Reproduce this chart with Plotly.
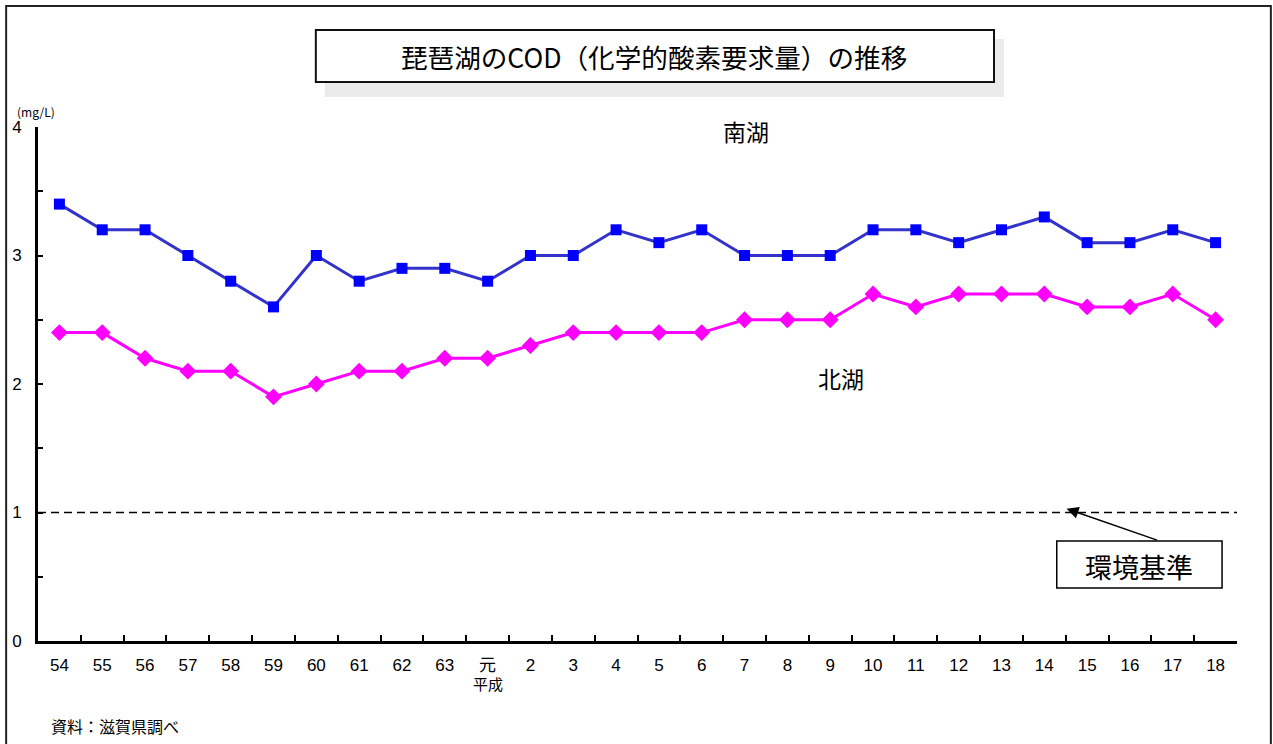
import plotly.graph_objects as go

# 年度（昭和54年度〜平成18年度）
years = ["54", "55", "56", "57", "58", "59", "60", "61", "62", "63", "元",
         "2", "3", "4", "5", "6", "7", "8", "9", "10", "11", "12", "13",
         "14", "15", "16", "17", "18"]

# COD 年平均値 (mg/L)
south_lake = [3.4, 3.2, 3.2, 3.0, 2.8, 2.6, 3.0, 2.8, 2.9, 2.9, 2.8,
              3.0, 3.0, 3.2, 3.1, 3.2, 3.0, 3.0, 3.0, 3.2, 3.2, 3.1, 3.2,
              3.3, 3.1, 3.1, 3.2, 3.1]
north_lake = [2.4, 2.4, 2.2, 2.1, 2.1, 1.9, 2.0, 2.1, 2.1, 2.2, 2.2,
              2.3, 2.4, 2.4, 2.4, 2.4, 2.5, 2.5, 2.5, 2.7, 2.6, 2.7, 2.7,
              2.7, 2.6, 2.6, 2.7, 2.5]

ENV_STANDARD = 1.0   # 環境基準 (mg/L)
y_ticks = [0, 1, 2, 3, 4]

FONT = "Noto Sans CJK JP"
TICK_FONT = "Liberation Sans, Noto Sans CJK JP"
W, H = 1273, 744
ML, MR, MT, MB = 33, 36, 127, 103
PW, PH = W - ML - MR, H - MT - MB


def px(x):
    return (x - ML) / PW


def py(y):
    return (H - MB - y) / PH


def label(text, x, y, size, xanchor="center", xref="paper"):
    return dict(text=text, xref=xref, yref="paper", x=x, y=py(y),
                xanchor=xanchor, yanchor="middle", showarrow=False,
                font=dict(family=FONT, size=size, color="black"))


fig = go.Figure()

fig.add_trace(go.Scatter(
    x=years, y=south_lake, mode="lines+markers", name="南湖",
    line=dict(color="#3333CC", width=3),
    marker=dict(symbol="square", size=11, color="#0000FF"),
))
fig.add_trace(go.Scatter(
    x=years, y=north_lake, mode="lines+markers", name="北湖",
    line=dict(color="#FF00FF", width=3),
    marker=dict(symbol="diamond", size=13, color="#FF00FF"),
))

shapes = [
    # page frame
    dict(type="rect", xref="paper", yref="paper",
         x0=px(1), x1=px(1271), y0=py(760), y1=py(6),
         line=dict(color="#222222", width=2), fillcolor="rgba(0,0,0,0)"),
    # title shadow
    dict(type="rect", xref="paper", yref="paper",
         x0=px(321), x1=px(1003), y0=py(97), y1=py(39),
         line=dict(width=0), fillcolor="#ebebeb"),
    # title box
    dict(type="rect", xref="paper", yref="paper",
         x0=px(312), x1=px(993), y0=py(82), y1=py(30),
         line=dict(color="#111111", width=2), fillcolor="white"),
    # environmental standard line
    dict(type="line", xref="x", yref="y",
         x0=-0.5, x1=27.69, y0=ENV_STANDARD, y1=ENV_STANDARD,
         line=dict(color="black", width=1.5, dash="8px,5px")),
    # standard label box
    dict(type="rect", xref="paper", yref="paper",
         x0=px(1056), x1=px(1222), y0=py(588), y1=py(541),
         line=dict(color="black", width=1.5), fillcolor="white"),
]

annotations = [
    label("琵琶湖のCOD（化学的酸素要求量）の推移", px(652), 56, 26.6),
    label("南湖", px(744), 131, 23),
    label("北湖", px(839), 378, 23),
    label("(mg/L)", px(31), 111, 12),
    label("昭和", "54", 683, 15, xref="x"),
    label("平成", "元", 683, 15, xref="x"),
    label("資料：滋賀県調べ", px(44), 726, 16, xanchor="left"),
    label("環境基準", px(1139), 566, 27),
    # arrow pointing at the standard line
    dict(text="", xref="x", yref="y", x=23.52, y=ENV_STANDARD + 0.03,
         showarrow=True, ax=92, ay=32, arrowhead=2, arrowsize=1.6,
         arrowwidth=1.5, arrowcolor="black"),
]

fig.update_layout(
    width=W, height=H,
    margin=dict(l=ML, r=MR, t=MT, b=MB),
    paper_bgcolor="white", plot_bgcolor="white",
    showlegend=False,
    shapes=shapes, annotations=annotations,
    font=dict(family=FONT, color="black"),
    xaxis=dict(
        type="category", range=[-0.5, 27.5],
        showgrid=False, zeroline=False,
        showline=True, linecolor="black", linewidth=3,
        ticks="inside", tickson="boundaries", ticklen=6, tickwidth=2,
        tickcolor="black",
        tickfont=dict(family=TICK_FONT, size=17, color="black"),
        ticklabelstandoff=7,
    ),
    yaxis=dict(
        range=[0, 4], tickvals=y_ticks,
        showgrid=False, zeroline=False,
        showline=True, linecolor="black", linewidth=3,
        ticks="inside", ticklen=5, tickwidth=2, tickcolor="black",
        minor=dict(dtick=0.5, ticks="inside", ticklen=5, tickwidth=2,
                   tickcolor="black"),
        tickfont=dict(family=TICK_FONT, size=17, color="black"),
        ticklabelstandoff=10,
    ),
)

fig.write_html("out.html")
